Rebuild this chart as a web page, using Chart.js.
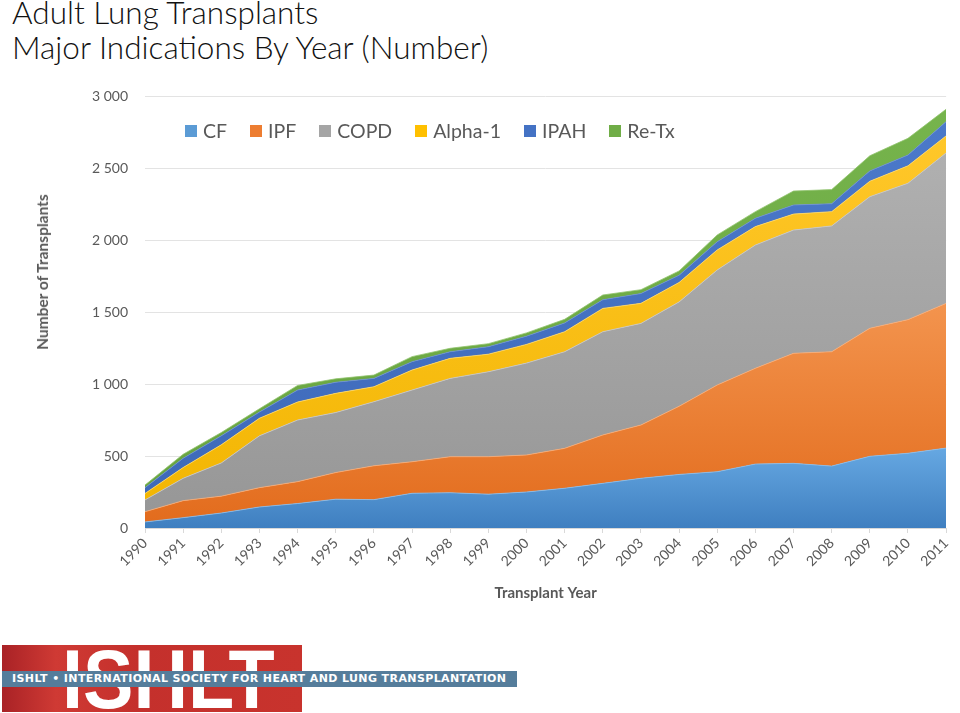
<!DOCTYPE html>
<html>
<head>
<meta charset="utf-8">
<script src="https://cdn.jsdelivr.net/npm/chart.js@4/dist/chart.umd.min.js"></script>
<style>
  html, body { margin:0; padding:0; background:#fff; width:960px; height:713px; overflow:hidden; font-family: Lato, "Open Sans", sans-serif; }
  #title { position:absolute; left:12px; top:-5px; font-size:31.5px; line-height:35px; color:#111; font-weight:300; font-family: Lato, "Open Sans", sans-serif; }
  #chart { position:absolute; left:0; top:0; }
  #ytitle { position:absolute; left:42px; top:272px; transform: translate(-50%,-50%) rotate(-90deg); font-size:15.5px; font-weight:bold; color:#595959; white-space:nowrap; }
  #legend { position:absolute; left:185px; top:119px; display:flex; gap:23px; font-size:19.5px; color:#595959; }
  #legend .item { display:flex; align-items:center; gap:6px; }
  #legend .sw { width:12px; height:12px; display:inline-block; }
  #logo { position:absolute; left:2px; top:645px; width:300px; height:67px; background:linear-gradient(90deg,#a92226 0%,#cf3a34 18%,#c4302c 45%,#c8332d 100%); overflow:hidden; }
  #logo .big { position:absolute; left:60px; top:-8px; font-family:"Liberation Sans", Arial, sans-serif; font-weight:bold; font-size:84px; line-height:84px; color:#fff; letter-spacing:0px; transform:scaleX(0.9); transform-origin:left top; }
  #band { position:absolute; left:2px; top:671px; width:515px; height:16px; background:#557d9b; color:#fff; font-family:"DejaVu Sans", sans-serif; font-weight:bold; font-size:11px; line-height:16px; letter-spacing:0.4px; padding-left:10px; box-sizing:border-box; white-space:nowrap; overflow:hidden; }
</style>
</head>
<body>
<div id="title">Adult Lung Transplants<br>Major Indications By Year (Number)</div>
<canvas id="chart" width="960" height="620"></canvas>
<div id="ytitle">Number of Transplants</div>
<div id="legend"></div>
<div id="logo"><div class="big">ISHLT</div></div>
<div id="band">ISHLT • INTERNATIONAL SOCIETY FOR HEART AND LUNG TRANSPLANTATION</div>
<script>
const years = ["1990","1991","1992","1993","1994","1995","1996","1997","1998","1999","2000","2001","2002","2003","2004","2005","2006","2007","2008","2009","2010","2011"];
const cf    = [42, 72, 104, 146, 170, 200, 197, 241, 245, 235, 250, 276, 310, 345, 372, 391, 444, 449, 430, 498, 519, 555];
const ipf   = [71, 118, 117, 134, 152, 185, 235, 219, 250, 260, 257, 277, 336, 370, 473, 602, 665, 764, 794, 889, 928, 1005];
const copd  = [82, 155, 231, 360, 428, 417, 445, 498, 544, 590, 638, 671, 717, 706, 725, 799, 856, 856, 874, 914, 947, 1045];
const alpha1= [45, 75, 126, 122, 125, 133, 104, 139, 139, 122, 130, 139, 162, 139, 135, 139, 128, 111, 99, 107, 121, 118];
const ipah  = [40, 64, 62, 43, 83, 77, 58, 58, 46, 52, 57, 61, 60, 68, 50, 57, 58, 63, 55, 72, 75, 99];
const retx  = [18, 28, 23, 23, 32, 24, 23, 35, 24, 21, 23, 25, 33, 27, 30, 47, 46, 97, 98, 105, 116, 86];

const seriesLabels = ["CF","IPF","COPD","Alpha-1","IPAH","Re-Tx"];
const seriesData = [cf, ipf, copd, alpha1, ipah, retx];
const baseColors = ["#5b9bd5","#ed7d31","#a5a5a5","#ffc000","#4472c4","#70ad47"];
const topColors  = ["#66a8e2","#f3944e","#b0b0b0","#ffc72a","#4b79ca","#76b44c"];
const botColors  = ["#3f7fc0","#e26b1c","#969696","#f2b500","#3d68b8","#67a23f"];
const edgeColors = ["#8cbde8","#f6ad7a","#c8c8c8","#ffd866","#6d90d2","#92c46e"];

// cumulative maxima for per-layer gradients
const cumMax = [];
(function(){
  const run = years.map(() => 0);
  seriesData.forEach((arr) => {
    arr.forEach((v, i) => { run[i] += v; });
    cumMax.push(Math.max(...run));
  });
})();

function gradFor(idx) {
  return (ctx) => {
    const chart = ctx.chart;
    const area = chart.chartArea;
    if (!area || !chart.scales.y) return baseColors[idx];
    const yTop = chart.scales.y.getPixelForValue(cumMax[idx]);
    const g = chart.ctx.createLinearGradient(0, yTop, 0, area.bottom);
    g.addColorStop(0, topColors[idx]);
    g.addColorStop(1, botColors[idx]);
    return g;
  };
}

const datasets = seriesData.map((arr, i) => ({
  label: seriesLabels[i],
  data: arr,
  fill: i === 0 ? 'origin' : '-1',
  backgroundColor: gradFor(i),
  borderColor: edgeColors[i],
  borderWidth: 0.8,
  pointRadius: 0,
  pointHoverRadius: 0,
  tension: 0
}));

// HTML legend built from the series
const legendEl = document.getElementById('legend');
seriesLabels.forEach((lab, i) => {
  const it = document.createElement('div');
  it.className = 'item';
  const sw = document.createElement('span');
  sw.className = 'sw';
  sw.style.background = baseColors[i];
  const tx = document.createElement('span');
  tx.textContent = lab;
  it.appendChild(sw); it.appendChild(tx);
  legendEl.appendChild(it);
});

const fontFam = 'Lato, "Open Sans", sans-serif';

new Chart(document.getElementById('chart'), {
  type: 'line',
  data: { labels: years, datasets },
  options: {
    responsive: false,
    animation: false,
    devicePixelRatio: 1,
    layout: { padding: { left: 0, top: 96, right: 5, bottom: 0 } },
    plugins: { legend: { display: false }, tooltip: { enabled: false } },
    scales: {
      x: {
        offset: false,
        grid: { drawOnChartArea: false, drawTicks: true, tickLength: 5, color: '#d9d9d9' },
        border: { display: true, color: '#d9d9d9' },
        ticks: { minRotation: 45, maxRotation: 45, autoSkip: false, padding: 2, color: '#595959', font: { family: fontFam, size: 14 } },
        title: { display: true, text: 'Transplant Year', color: '#595959', font: { family: fontFam, size: 15, weight: 'bold' }, padding: { top: 0, bottom: 18 } },
        afterFit: (s) => { s.height = 92; }
      },
      y: {
        stacked: true,
        min: 0, max: 3000,
        grid: { color: '#e3e3e3', drawTicks: false },
        border: { display: false },
        ticks: {
          stepSize: 500, padding: 17, color: '#595959', font: { family: fontFam, size: 14 },
          callback: (v) => String(v).replace(/\B(?=(\d{3})+(?!\d))/g, ' ')
        },
        afterFit: (s) => { s.width = 145; }
      }
    }
  }
});
</script>
</body>
</html>
